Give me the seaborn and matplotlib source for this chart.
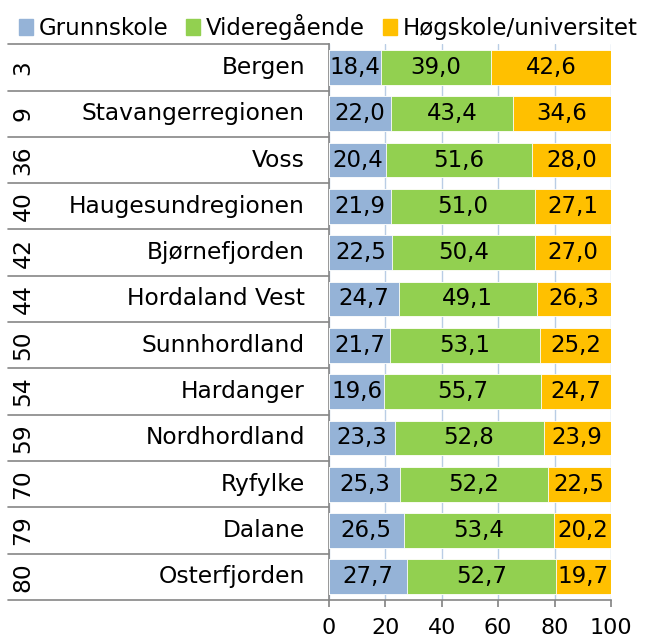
import matplotlib
matplotlib.use("Agg")
import matplotlib.pyplot as plt
import matplotlib.patches as mpatches
import seaborn as sns
import pandas as pd
import numpy as np

ranks = ["3", "9", "36", "40", "42", "44", "50", "54", "59", "70", "79", "80"]
regions = ["Bergen", "Stavangerregionen", "Voss", "Haugesundregionen", "Bjørnefjorden",
           "Hordaland Vest", "Sunnhordland", "Hardanger", "Nordhordland", "Ryfylke",
           "Dalane", "Osterfjorden"]
grunnskole = [18.4, 22.0, 20.4, 21.9, 22.5, 24.7, 21.7, 19.6, 23.3, 25.3, 26.5, 27.7]
videregaaende = [39.0, 43.4, 51.6, 51.0, 50.4, 49.1, 53.1, 55.7, 52.8, 52.2, 53.4, 52.7]
hogskole = [42.6, 34.6, 28.0, 27.1, 27.0, 26.3, 25.2, 24.7, 23.9, 22.5, 20.2, 19.7]
series_names = ["Grunnskole", "Videregående", "Høgskole/universitet"]
colors = ["#95b3d7", "#92d050", "#ffc000"]
xticks = [0, 20, 40, 60, 80, 100]

sns.set_theme(style="white")
plt.rcParams['font.family'] = ['DejaVu Sans']
plt.rcParams['text.color'] = 'black'
plt.rcParams['xtick.color'] = 'black'

df = pd.DataFrame({"region": regions, "g": grunnskole, "v": videregaaende, "h": hogskole})
df["c1"] = df["g"]
df["c2"] = df["g"] + df["v"]
df["c3"] = df["g"] + df["v"] + df["h"]

fig = plt.figure(figsize=(6.5, 6.41), dpi=100)
ax = fig.add_axes([0.506, 0.064, 0.434, 0.867])

fs_val = 16.5
fs_name = 16.8
fs_tick = 16
fs_leg = 16.5
for col, c in [("c3", colors[2]), ("c2", colors[1]), ("c1", colors[0])]:
    sns.barplot(data=df, x=col, y="region", color=c, orient="h", width=0.75,
                ax=ax, saturation=1, edgecolor="white", linewidth=0.6, zorder=3)

ax.set_xlim(0, 100)
ax.set_ylim(len(regions) - 0.5, -0.5)
ax.set_xticks(xticks)
ax.set_xticklabels([str(t) for t in xticks], fontsize=fs_tick, color="black")
ax.tick_params(axis="x", length=5, color="#868686", labelcolor="black", pad=8,
               direction="out", bottom=True)
ax.set_xlabel("")
ax.set_ylabel("")
ax.set_yticks([])
ax.grid(axis="x", color="#b9cde5", linewidth=1, zorder=0)
ax.set_axisbelow(True)
for s in ["top", "right"]:
    ax.spines[s].set_visible(False)
for s in ["left", "bottom"]:
    ax.spines[s].set_color("#868686")
    ax.spines[s].set_linewidth(1.2)

# value labels
for i in range(len(regions)):
    segs = [(0, grunnskole[i]), (df["c1"][i], videregaaende[i]), (df["c2"][i], hogskole[i])]
    for left, w in segs:
        ax.text(left + w / 2, i, f"{w:.1f}".replace(".", ","), ha="center", va="center",
                fontsize=fs_val, color="black", zorder=5)

# category labels table
trans = ax.get_yaxis_transform()
x_left = -1.138
for i in range(len(regions)):
    ax.text(-0.085, i, regions[i], transform=trans, ha="right", va="center",
            fontsize=fs_name, color="black")
    ax.text(-1.085, i, ranks[i], transform=trans, ha="center", va="center",
            fontsize=fs_name, rotation=90, color="black")
for b in np.arange(-0.5, len(regions), 1.0):
    ax.plot([x_left, 0], [b, b], transform=trans, color="#868686", linewidth=1.2,
            clip_on=False, zorder=1)

# legend
handles = [mpatches.Patch(color=c, label=n) for c, n in zip(colors, series_names)]
leg = fig.legend(handles=handles, loc="center", bbox_to_anchor=(0.505, 0.958), ncol=3,
                 frameon=False, fontsize=fs_leg, handlelength=0.6, handleheight=0.7,
                 handletextpad=0.25, columnspacing=0.8, borderaxespad=0.0, borderpad=0.0)
for t in leg.get_texts():
    t.set_color("black")

fig.savefig("out.png", dpi=100)
